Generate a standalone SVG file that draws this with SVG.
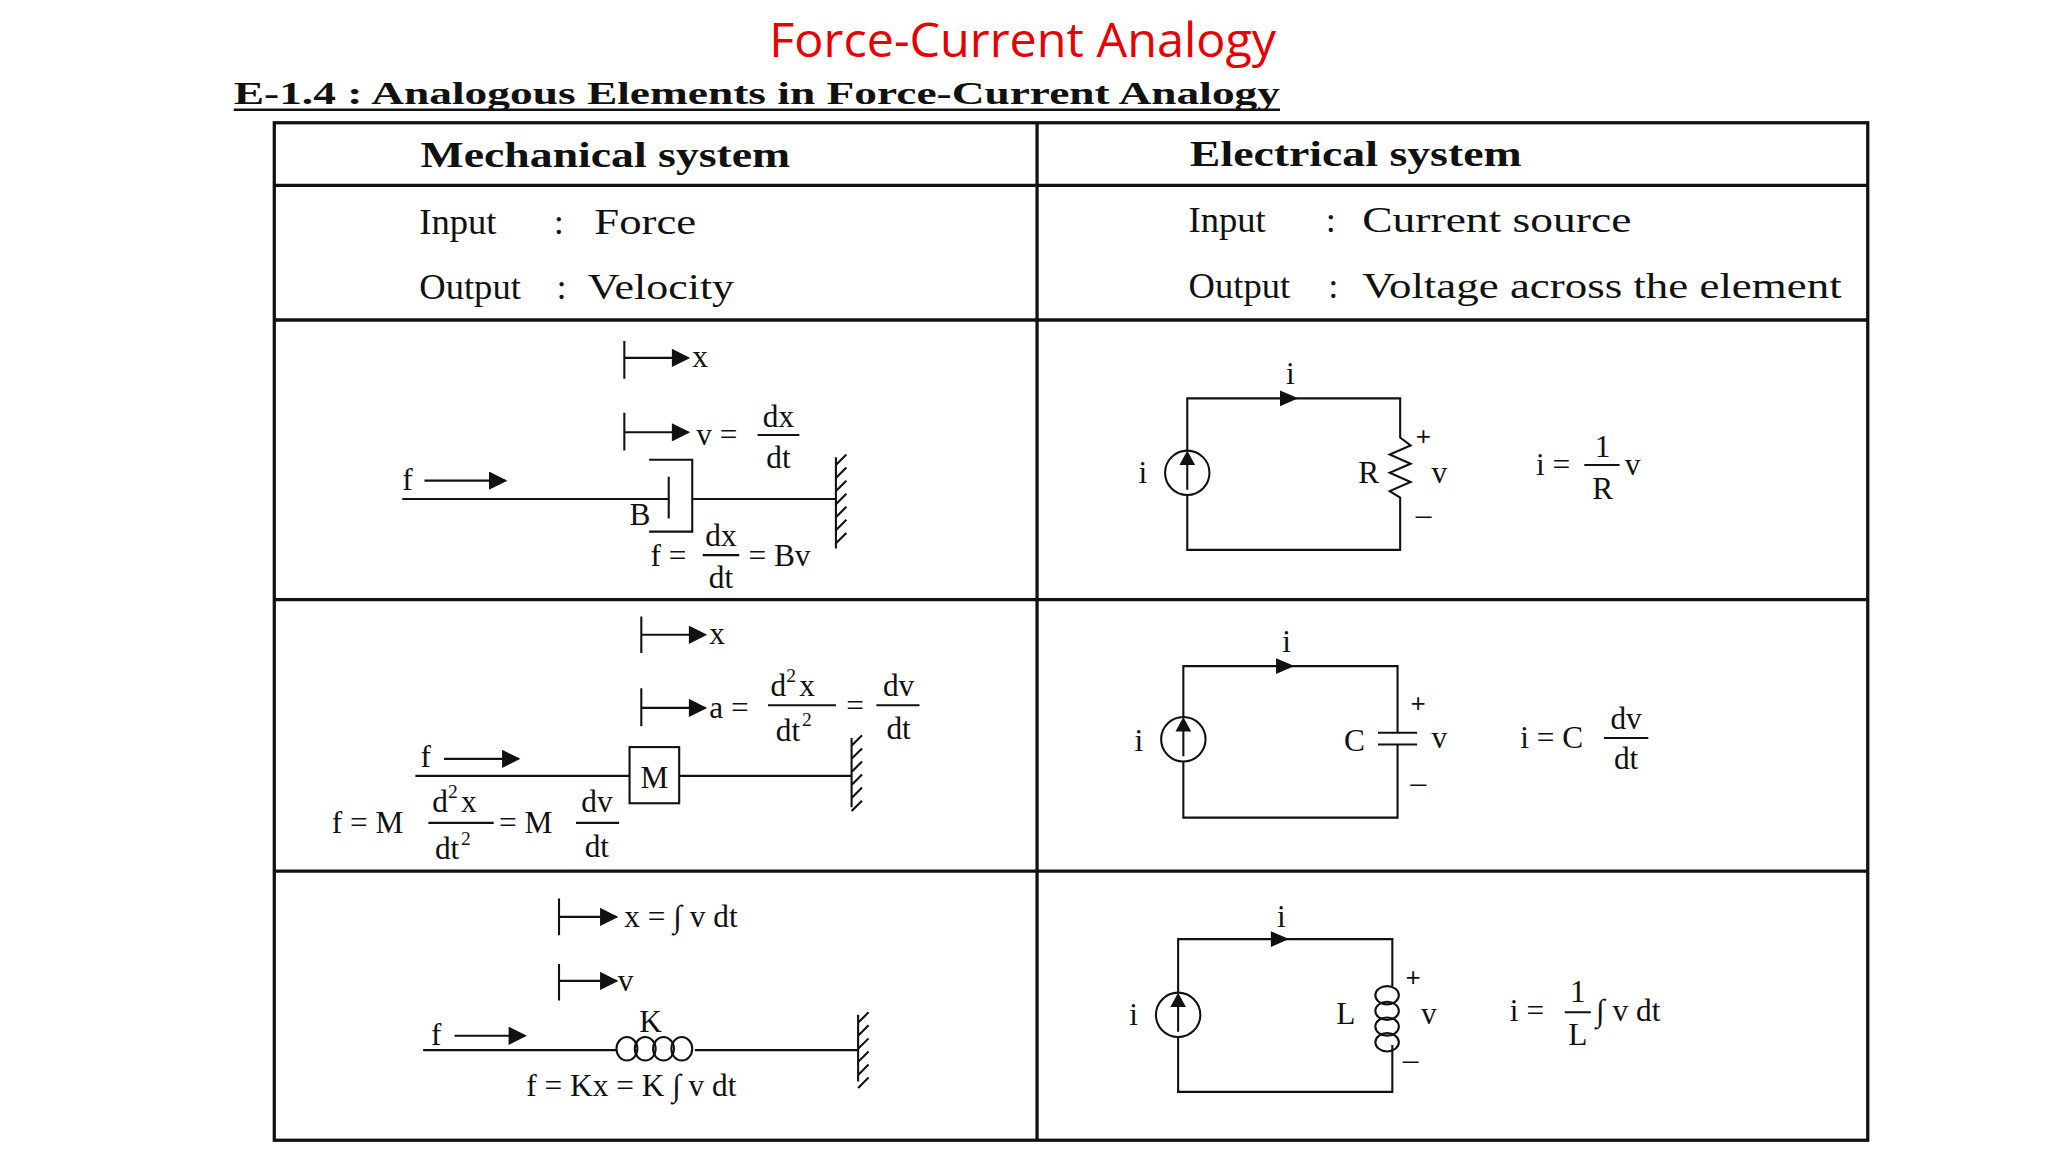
<svg xmlns="http://www.w3.org/2000/svg" width="2048" height="1152" viewBox="0 0 2048 1152">
<defs>
<style>
.t{font-family:"Liberation Serif",serif;fill:#111;font-size:24px}
.h{font-family:"Liberation Serif",serif;fill:#111;font-size:27px;font-weight:bold}
.i{font-family:"Liberation Serif",serif;fill:#111;font-size:28px}
.s{font-family:"Liberation Serif",serif;fill:#111;font-size:15px}
.p{font-family:"Liberation Sans",sans-serif;fill:#111;font-size:20px}
.ln{stroke:#111;stroke-width:2;fill:none}
.tb{stroke:#111;stroke-width:2.5;fill:none}
.w{stroke:#111;stroke-width:1.6;fill:none}
</style>
<marker id="ar" viewBox="0 0 10 10" refX="9" refY="5" markerWidth="17" markerHeight="14" orient="auto" markerUnits="userSpaceOnUse"><path d="M0,0L10,5L0,10z" fill="#111"/></marker>
</defs>
<rect width="2048" height="1152" fill="#fff"/>
<g transform="scale(1.30612)">
<text x="783" y="44" text-anchor="middle" font-family="Open Sans,Liberation Sans,sans-serif" font-size="36" fill="#e60000" textLength="388" lengthAdjust="spacingAndGlyphs">Force-Current Analogy</text>
<text x="179" y="80" font-family="Liberation Serif,serif" font-size="24" font-weight="bold" fill="#111" textLength="801" lengthAdjust="spacingAndGlyphs">E-1.4 : Analogous Elements in Force-Current Analogy</text>
<line x1="179" y1="84" x2="980" y2="84" class="ln" stroke-width="1.5"/>
<g id="table">
<rect x="210" y="94" width="1220" height="779" class="tb"/>
<line x1="794" y1="94" x2="794" y2="873" class="tb"/>
<line x1="210" y1="142" x2="1430" y2="142" class="tb"/>
<line x1="210" y1="245" x2="1430" y2="245" class="tb"/>
<line x1="210" y1="459" x2="1430" y2="459" class="tb"/>
<line x1="210" y1="667" x2="1430" y2="667" class="tb"/>
<text x="322" y="128" class="h" textLength="283" lengthAdjust="spacingAndGlyphs">Mechanical system</text>
<text x="911" y="127" class="h" textLength="254" lengthAdjust="spacingAndGlyphs">Electrical system</text>
<text x="321" y="179" class="i">Input</text><text x="424" y="179" class="i">:</text><text x="455" y="179" class="i" textLength="78" lengthAdjust="spacingAndGlyphs">Force</text>
<text x="321" y="229" class="i">Output</text><text x="426" y="229" class="i">:</text><text x="450" y="229" class="i" textLength="112" lengthAdjust="spacingAndGlyphs">Velocity</text>
<text x="910" y="178" class="i">Input</text><text x="1015" y="178" class="i">:</text><text x="1043" y="178" class="i" textLength="206" lengthAdjust="spacingAndGlyphs">Current source</text>
<text x="910" y="228" class="i">Output</text><text x="1017" y="228" class="i">:</text><text x="1043" y="228" class="i" textLength="367" lengthAdjust="spacingAndGlyphs">Voltage across the element</text>
</g>
<g id="connectors">
<path d="M478,261V290M478,316V345M308,382H512M512,365V397M497,352H530V407H497M530,382H640" class="w"/>
<line x1="478" y1="274" x2="527" y2="274" class="w" marker-end="url(#ar)"/>
<line x1="478" y1="331" x2="527" y2="331" class="w" marker-end="url(#ar)"/>
<line x1="325" y1="368" x2="387" y2="368" class="w" marker-end="url(#ar)"/>
<path d="M640,350V420M640,356l8,-8M640,366l8,-8M640,376l8,-8M640,386l8,-8M640,396l8,-8M640,406l8,-8M640,416l8,-8" class="w"/>
<path d="M491,472V500M491,527V556M318,594H482M520,594H652M652,565V618M652,571l8,-8M652,581l8,-8M652,591l8,-8M652,601l8,-8M652,611l8,-8M652,621l8,-8" class="w"/>
<line x1="491" y1="486" x2="540" y2="486" class="w" marker-end="url(#ar)"/>
<line x1="491" y1="542" x2="540" y2="542" class="w" marker-end="url(#ar)"/>
<line x1="340" y1="581" x2="397" y2="581" class="w" marker-end="url(#ar)"/>
<rect x="482" y="572" width="38" height="43" class="w"/>
<path d="M428,688V716M428,738V766M324,804H472M532,804H657M657,777V828M657,783l8,-8M657,793l8,-8M657,803l8,-8M657,813l8,-8M657,823l8,-8M657,833l8,-8" class="w"/>
<line x1="428" y1="702" x2="472" y2="702" class="w" marker-end="url(#ar)"/>
<line x1="428" y1="751" x2="472" y2="751" class="w" marker-end="url(#ar)"/>
<line x1="348" y1="793" x2="402" y2="793" class="w" marker-end="url(#ar)"/>
<g class="w"><ellipse cx="480" cy="803" rx="8" ry="9"/><ellipse cx="494" cy="803" rx="8" ry="9"/><ellipse cx="508" cy="803" rx="8" ry="9"/><ellipse cx="522" cy="803" rx="8" ry="9"/></g>
<path d="M909,345V305H1072V335l8,6l-16,7l16,7l-16,7l16,7l-16,7l8,5V421H909V379" class="w"/>
<path d="M980,299L994,305L980,311z" fill="#111"/>
<circle cx="909" cy="362" r="17" class="w"/>
<path d="M909,375V352" class="w"/><path d="M903,356L909,345L915,356z" fill="#111"/>
<path d="M906,549V510H1070V561M1070,570V626H906V583M1055,561H1085M1055,570H1085" class="w"/>
<path d="M977,504L991,510L977,516z" fill="#111"/>
<circle cx="906" cy="566" r="17" class="w"/>
<path d="M906,579V556" class="w"/><path d="M900,560L906,549L912,560z" fill="#111"/>
<path d="M902,760V719H1066V755M1066,800V836H902V794" class="w"/>
<g class="w"><ellipse cx="1062" cy="762" rx="9" ry="7"/><ellipse cx="1062" cy="774" rx="9" ry="7"/><ellipse cx="1062" cy="786" rx="9" ry="7"/><ellipse cx="1062" cy="798" rx="9" ry="7"/></g>
<path d="M973,713L987,719L973,725z" fill="#111"/>
<circle cx="902" cy="777" r="17" class="w"/>
<path d="M902,790V767" class="w"/><path d="M896,771L902,760L908,771z" fill="#111"/>
<path d="M580,333H612M538,425H566M1213,356H1240M588,540H640M671,540H704M328,630H378M441,630H474M1228,565H1262M1198,775H1218" class="w"/>
</g>
<g id="labels">
<text x="530" y="281" class="t">x</text>
<text x="533" y="341" class="t">v =</text>
<text x="596" y="327" class="t" text-anchor="middle">dx</text>
<text x="596" y="358" class="t" text-anchor="middle">dt</text>
<text x="308" y="375" class="t">f</text>
<text x="482" y="402" class="t">B</text>
<text x="498" y="433" class="t">f =</text>
<text x="552" y="418" class="t" text-anchor="middle">dx</text>
<text x="552" y="450" class="t" text-anchor="middle">dt</text>
<text x="573" y="433" class="t">= Bv</text>
<text x="988" y="294" class="t" text-anchor="middle">i</text>
<text x="875" y="370" class="t" text-anchor="middle">i</text>
<text x="1040" y="370" class="t">R</text>
<text x="1084" y="341" class="p">+</text>
<text x="1096" y="370" class="t">v</text>
<text x="1084" y="402" class="t">–</text>
<text x="1176" y="364" class="t">i =</text>
<text x="1227" y="350" class="t" text-anchor="middle">1</text>
<text x="1227" y="382" class="t" text-anchor="middle">R</text>
<text x="1244" y="364" class="t">v</text>
<text x="543" y="493" class="t">x</text>
<text x="543" y="550" class="t">a =</text>
<text x="590" y="533" class="t">d</text><text x="602" y="522" class="s">2</text><text x="612" y="533" class="t">x</text>
<text x="594" y="567" class="t">dt</text><text x="614" y="556" class="s">2</text>
<text x="648" y="548" class="t">=</text>
<text x="688" y="533" class="t" text-anchor="middle">dv</text>
<text x="688" y="566" class="t" text-anchor="middle">dt</text>
<text x="322" y="587" class="t">f</text>
<text x="501" y="603" class="t" text-anchor="middle">M</text>
<text x="254" y="638" class="t">f = M</text>
<text x="331" y="622" class="t">d</text><text x="343" y="611" class="s">2</text><text x="353" y="622" class="t">x</text>
<text x="333" y="658" class="t">dt</text><text x="353" y="647" class="s">2</text>
<text x="382" y="638" class="t">= M</text>
<text x="457" y="622" class="t" text-anchor="middle">dv</text>
<text x="457" y="656" class="t" text-anchor="middle">dt</text>
<text x="985" y="499" class="t" text-anchor="middle">i</text>
<text x="872" y="575" class="t" text-anchor="middle">i</text>
<text x="1029" y="575" class="t">C</text>
<text x="1080" y="545" class="p">+</text>
<text x="1096" y="573" class="t">v</text>
<text x="1080" y="607" class="t">–</text>
<text x="1164" y="573" class="t">i = C</text>
<text x="1245" y="558" class="t" text-anchor="middle">dv</text>
<text x="1245" y="589" class="t" text-anchor="middle">dt</text>
<text x="478" y="710" class="t">x = ∫ v dt</text>
<text x="473" y="759" class="t">v</text>
<text x="330" y="800" class="t">f</text>
<text x="498" y="790" class="t" text-anchor="middle">K</text>
<text x="403" y="839" class="t">f = Kx = K ∫ v dt</text>
<text x="981" y="710" class="t" text-anchor="middle">i</text>
<text x="868" y="785" class="t" text-anchor="middle">i</text>
<text x="1023" y="784" class="t">L</text>
<text x="1076" y="755" class="p">+</text>
<text x="1088" y="784" class="t">v</text>
<text x="1074" y="819" class="t">–</text>
<text x="1156" y="782" class="t">i =</text>
<text x="1208" y="767" class="t" text-anchor="middle">1</text>
<text x="1208" y="800" class="t" text-anchor="middle">L</text>
<text x="1222" y="782" class="t">∫ v dt</text>
</g>
</g>
</svg>
